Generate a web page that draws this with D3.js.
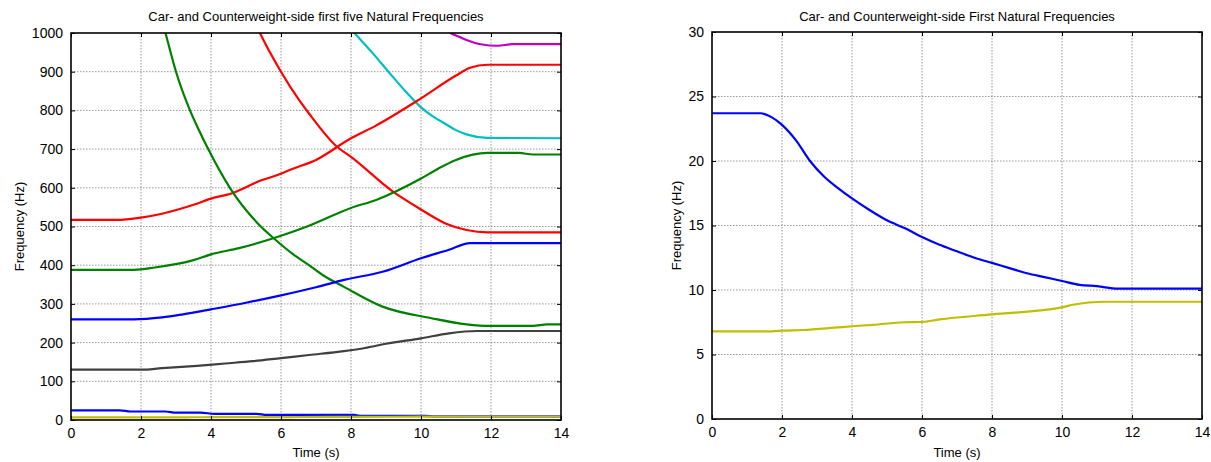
<!DOCTYPE html>
<html>
<head>
<meta charset="utf-8">
<script src="https://cdn.jsdelivr.net/npm/d3@7"></script>
<style>
  body { margin: 0; background: #fff; }
  svg { font-family: "Liberation Sans", Arial, sans-serif; }
  .grid line { stroke: #7f7f7f; stroke-width: 0.8; stroke-dasharray: 1.5,1.5; }
</style>
</head>
<body>
<div class="chart"></div>
<script>
// ---- data ----
const timeTicks = [0, 2, 4, 6, 8, 10, 12, 14];
const leftYTicks = [0, 100, 200, 300, 400, 500, 600, 700, 800, 900, 1000];
const rightYTicks = [0, 5, 10, 15, 20, 25, 30];

// first natural frequency (car side, yellow)
const yellowT = [0, 1.7, 2, 2.6, 3.5, 4, 4.6, 5.5, 6, 6.5, 8, 10, 10.3, 11.2, 14];
const yellowF = [6.8, 6.8, 6.85, 6.9, 7.08, 7.19, 7.3, 7.5, 7.52, 7.72, 8.11, 8.65, 8.86, 9.09, 9.09];

// first natural frequency (counterweight side, blue) - right panel
const blueT = [0, 1.4, 1.7, 2, 2.4, 2.8, 3.2, 3.6, 4, 4.5, 5, 5.5, 6, 6.5, 7, 7.5, 8, 8.5, 9, 9.5, 10, 10.5, 11, 11.6, 12, 14];
const blueF = [23.7, 23.7, 23.4, 22.8, 21.6, 20.0, 18.8, 17.9, 17.1, 16.2, 15.4, 14.8, 14.1, 13.5, 13.0, 12.5, 12.1, 11.7, 11.3, 11.0, 10.7, 10.4, 10.3, 10.1, 10.1, 10.1];

// left panel: low blue as drawn there (coarser)
const blueLowT = [0, 1.4, 1.7, 2.7, 3.0, 3.7, 4.1, 5.3, 5.6, 8.1, 8.3, 10.1, 10.4, 14];
const blueLowF = [25, 25, 22, 22, 19, 19, 16, 16, 13, 13, 10.5, 10.5, 9.5, 9.5];

const grayT = [0, 2, 2.6, 3.6, 4.4, 5.2, 6, 6.8, 7.8, 8.4, 9, 10, 10.8, 11.6, 14];
const grayF = [130, 130, 134, 140, 146, 152, 160, 168, 178, 186, 197, 211, 224, 230, 230];

const blueMidT = [0, 1.8, 2.6, 3.2, 4, 5, 6, 7, 7.8, 8.9, 10, 10.8, 11.4, 14];
const blueMidF = [260, 260, 265, 273, 286, 303, 322, 343, 362, 383, 418, 440, 457, 457];

const greenUpT = [0, 1.8, 2.4, 3.5, 4, 4.8, 6, 6.8, 8, 8.7, 10, 10.5, 11, 11.9, 12.8, 13.2, 14];
const greenUpF = [388, 388, 394, 413, 428, 444, 476, 502, 548, 568, 624, 650, 672, 690, 690, 686, 686];

const redUpT = [0, 1.3, 2, 2.6, 3.5, 4, 4.6, 5.4, 5.9, 6.3, 7, 8, 8.7, 10, 11, 11.4, 11.9, 14];
const redUpF = [517, 517, 523, 533, 556, 572, 586, 618, 633, 648, 672, 728, 760, 831, 890, 910, 918, 918];

const greenDownT = [2.55, 2.7, 3.0, 3.4, 3.65, 3.92, 4.54, 5.38, 5.8, 6.35, 6.8, 7.2, 7.8, 8.9, 10.3, 11.3, 12, 13.2, 13.6, 14];
const greenDownF = [1050, 1000, 900, 800, 750, 700, 600, 504, 469, 428, 400, 374, 344, 293, 263, 247, 243, 243, 247, 247];

const redDownT = [5.2, 5.4, 6.0, 6.5, 6.8, 7.6, 8, 9.2, 10, 10.7, 11.3, 11.9, 14];
const redDownF = [1040, 1000, 900, 829, 792, 706, 680, 590, 544, 508, 491, 485, 485];

const cyanT = [7.9, 8.1, 8.6, 9.07, 9.5, 10, 10.35, 10.7, 11, 11.3, 11.9, 14];
const cyanF = [1020, 1000, 950, 900, 855, 808, 784, 765, 749, 738, 729, 728];

const magentaT = [10.6, 10.85, 11.1, 11.3, 11.7, 12.2, 12.6, 14];
const magentaF = [1020, 1000, 990, 982, 971, 967, 971, 971];

const zip = (t, f) => t.map((d, i) => ({ t: d, f: f[i] }));

const leftSeries = [
  { color: '#bf00bf', values: zip(magentaT, magentaF) },
  { color: '#00bfbf', values: zip(cyanT, cyanF) },
  { color: '#ff0000', values: zip(redDownT, redDownF) },
  { color: '#ff0000', values: zip(redUpT, redUpF) },
  { color: '#008000', values: zip(greenDownT, greenDownF) },
  { color: '#008000', values: zip(greenUpT, greenUpF) },
  { color: '#0000ff', values: zip(blueMidT, blueMidF) },
  { color: '#404040', values: zip(grayT, grayF) },
  { color: '#0000ff', values: zip(blueLowT, blueLowF) },
  { color: '#bfbf00', values: zip(yellowT, yellowF) }
];

const rightSeries = [
  { color: '#0000ff', values: zip(blueT, blueF) },
  { color: '#bfbf00', values: zip(yellowT, yellowF) }
];

const svg = d3.select('.chart')
  .append('svg')
  .attr('width', 1211)
  .attr('height', 462);

function panel(id, box, yTicks, title, series, labelOffset) {
  const x = d3.scaleLinear().domain([0, 14]).range([box.left, box.right]);
  const y = d3.scaleLinear().domain([yTicks[0], yTicks[yTicks.length - 1]]).range([box.bottom, box.top]);

  const g = svg.append('g');

  g.append('clipPath').attr('id', id)
    .append('rect')
    .attr('x', box.left).attr('y', box.top)
    .attr('width', box.right - box.left).attr('height', box.bottom - box.top);

  // dotted grid
  const grid = g.append('g').attr('class', 'grid');
  grid.selectAll('.gx').data(timeTicks.slice(1, -1)).join('line')
    .attr('x1', d => x(d)).attr('x2', d => x(d))
    .attr('y1', box.top).attr('y2', box.bottom);
  grid.selectAll('.gy').data(yTicks.slice(1, -1)).join('line')
    .attr('x1', box.left).attr('x2', box.right)
    .attr('y1', d => y(d)).attr('y2', d => y(d));

  // series
  const line = d3.line()
    .x(d => x(d.t))
    .y(d => y(d.f))
    .curve(d3.curveMonotoneX);

  g.append('g').attr('clip-path', `url(#${id})`)
    .selectAll('path').data(series).join('path')
    .attr('d', d => line(d.values))
    .attr('fill', 'none')
    .attr('stroke', d => d.color)
    .attr('stroke-width', 2.2)
    .attr('stroke-linejoin', 'round');

  // axes: labels from d3 axes, matlab-style inward ticks on all sides
  const xAxis = d3.axisBottom(x).tickValues(timeTicks).tickSize(-4).tickPadding(8).tickFormat(d3.format('d'));
  const yAxis = d3.axisLeft(y).tickValues(yTicks).tickSize(-4).tickPadding(8).tickFormat(d3.format('d'));

  const axB = g.append('g').attr('transform', `translate(0,${box.bottom})`).call(xAxis);
  const axL = g.append('g').attr('transform', `translate(${box.left},0)`).call(yAxis);
  g.append('g').attr('transform', `translate(0,${box.top})`)
    .call(d3.axisTop(x).tickValues(timeTicks).tickSize(-4).tickFormat(''));
  g.append('g').attr('transform', `translate(${box.right},0)`)
    .call(d3.axisRight(y).tickValues(yTicks).tickSize(-4).tickFormat(''));

  g.selectAll('.domain').remove();
  g.selectAll('.tick line').attr('stroke', '#000');
  [axB, axL].forEach(a => a.selectAll('text')
    .attr('font-size', 14)
    .attr('font-family', '"Liberation Sans", Arial, sans-serif')
    .attr('fill', '#000'));

  // frame
  g.append('rect')
    .attr('x', box.left).attr('y', box.top)
    .attr('width', box.right - box.left).attr('height', box.bottom - box.top)
    .attr('fill', 'none').attr('stroke', '#000').attr('stroke-width', 1.6);

  g.append('text')
    .attr('x', (box.left + box.right) / 2).attr('y', 21)
    .attr('text-anchor', 'middle').attr('font-size', 13)
    .text(title);

  g.append('text')
    .attr('x', (box.left + box.right) / 2).attr('y', 457)
    .attr('text-anchor', 'middle').attr('font-size', 13)
    .text('Time (s)');

  g.append('text')
    .attr('transform', `translate(${box.left - labelOffset},${(box.top + box.bottom) / 2}) rotate(-90)`)
    .attr('text-anchor', 'middle').attr('font-size', 13)
    .text('Frequency (Hz)');
}

panel('clipL', { left: 71, right: 561, top: 33, bottom: 420 }, leftYTicks,
  'Car- and Counterweight-side first five Natural Frequencies', leftSeries, 47);

panel('clipR', { left: 712, right: 1202, top: 32, bottom: 419 }, rightYTicks,
  'Car- and Counterweight-side First Natural Frequencies', rightSeries, 31);
</script>
</body>
</html>
